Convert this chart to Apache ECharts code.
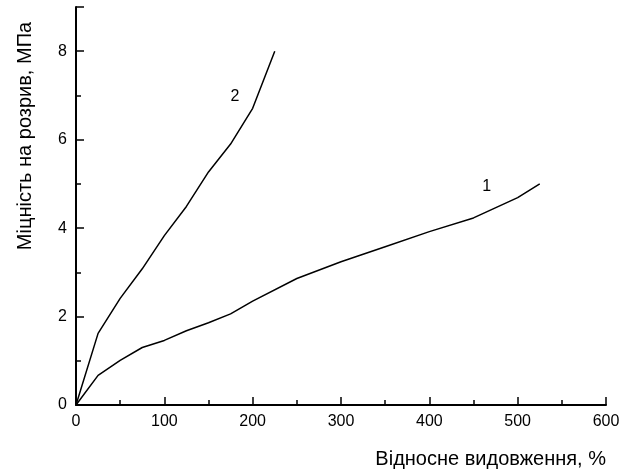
<!DOCTYPE html>
<html>
<head>
<meta charset="utf-8">
<script src="https://cdn.jsdelivr.net/npm/echarts@6/dist/echarts.min.js"></script>
<style>
html, body { margin: 0; padding: 0; background: #fff; }
#chart { width: 633px; height: 472px; }
</style>
</head>
<body>
<div id="chart"></div>
<script>
// крива 1
var elong1 = [0, 25, 50, 75, 100, 125, 150, 175, 200, 250, 300, 350, 400, 450, 500, 525];
var stress1 = [0, 0.67, 1.01, 1.3, 1.46, 1.68, 1.86, 2.06, 2.35, 2.86, 3.24, 3.58, 3.92, 4.23, 4.69, 5.0];
// крива 2
var elong2 = [0, 25, 50, 75, 100, 125, 150, 175, 200, 225];
var stress2 = [0, 1.62, 2.41, 3.08, 3.83, 4.49, 5.27, 5.9, 6.71, 8.0];
// підписи кривих
var curveLabels = [
    {name: '1', coord: [465, 4.93]},
    {name: '2', coord: [180, 6.97]}
];

var xTitle = 'Відносне видовження, %';
var yTitle = 'Міцність на розрив, МПа';

function pairs(xs, ys) {
    var res = [];
    for (var i = 0; i < xs.length; i++) {
        res.push([xs[i], ys[i]]);
    }
    return res;
}

var font = 'Arial, "Liberation Sans", sans-serif';

function markLabel(item) {
    return {
        silent: true,
        symbol: 'circle',
        symbolSize: 0,
        label: {
            show: true,
            formatter: item.name,
            position: 'inside',
            color: '#000',
            fontSize: 16,
            fontFamily: font
        },
        data: [{coord: item.coord}]
    };
}

var myChart = echarts.init(document.getElementById('chart'));

var option = {
    backgroundColor: '#fff',
    animation: false,
    grid: {left: 76, right: 27, top: 7, bottom: 67, outerBoundsMode: 'none'},
    xAxis: {
        type: 'value',
        min: 0,
        max: 600,
        interval: 100,
        name: xTitle,
        nameLocation: 'end',
        nameGap: 0,
        nameTextStyle: {
            color: '#000', fontSize: 20, fontFamily: font,
            align: 'right', verticalAlign: 'top', padding: [44, 0, 0, 0]
        },
        axisLine: {lineStyle: {color: '#000', width: 2}},
        axisTick: {inside: true, length: 8, lineStyle: {color: '#000', width: 1.5}},
        minorTick: {show: true, splitNumber: 2, length: 5, lineStyle: {color: '#000', width: 1.5}},
        axisLabel: {color: '#000', fontSize: 16, fontFamily: font, margin: 9},
        splitLine: {show: false}
    },
    yAxis: {
        type: 'value',
        min: 0,
        max: 9,
        interval: 2,
        name: yTitle,
        nameLocation: 'middle',
        nameGap: 41,
        nameTextStyle: {color: '#000', fontSize: 20, fontFamily: font, padding: [0, 0, 0, 140]},
        axisLine: {show: true, lineStyle: {color: '#000', width: 2}},
        axisTick: {inside: true, length: 8, lineStyle: {color: '#000', width: 1.5}},
        minorTick: {show: true, splitNumber: 2, length: 5, lineStyle: {color: '#000', width: 1.5}},
        axisLabel: {color: '#000', fontSize: 16, fontFamily: font, margin: 9, showMaxLabel: false},
        splitLine: {show: false}
    },
    series: [
        {
            name: '1',
            type: 'line',
            data: pairs(elong1, stress1),
            showSymbol: false,
            lineStyle: {color: '#000', width: 1.5},
            markPoint: markLabel(curveLabels[0])
        },
        {
            name: '2',
            type: 'line',
            data: pairs(elong2, stress2),
            showSymbol: false,
            lineStyle: {color: '#000', width: 1.5},
            markPoint: markLabel(curveLabels[1])
        }
    ]
};

myChart.setOption(option);
</script>
</body>
</html>
